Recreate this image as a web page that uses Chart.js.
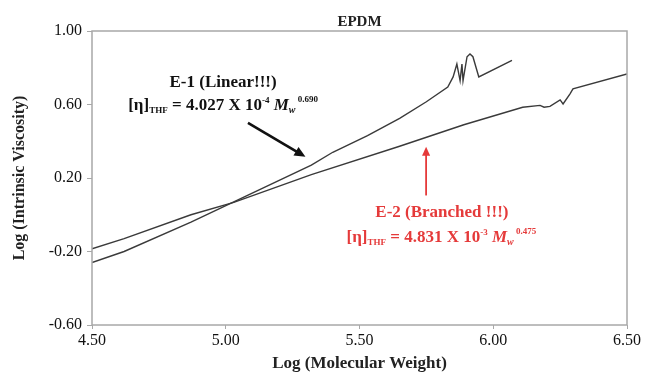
<!DOCTYPE html>
<html>
<head>
<meta charset="utf-8">
<script src="https://cdn.jsdelivr.net/npm/chart.js@4.4.0/dist/chart.umd.min.js"></script>
<style>
  html, body { margin: 0; padding: 0; background: #fff; }
  canvas { display: block; }
</style>
</head>
<body>
<canvas id="c" width="646" height="377"></canvas>
<script>
// ---- data -------------------------------------------------------------
const chartTitle = 'EPDM';
const xAxisTitle = 'Log (Molecular Weight)';
const yAxisTitle = 'Log (Intrinsic Viscosity)';
const xTickValues = [4.5, 5.0, 5.5, 6.0, 6.5];
const yTickValues = [-0.6, -0.2, 0.2, 0.6, 1.0];

// E-1 (linear EPDM): log M vs log [eta]
const e1LogM   = [4.50, 4.62, 4.87, 5.03, 5.32, 5.40, 5.53, 5.65, 5.75, 5.83, 5.85, 5.864, 5.876, 5.883, 5.887, 5.902, 5.913, 5.924, 5.946, 6.07];
const e1LogEta = [-0.26, -0.20, -0.04, 0.07, 0.27, 0.34, 0.43, 0.525, 0.615, 0.695, 0.75, 0.82, 0.73, 0.82, 0.73, 0.86, 0.875, 0.86, 0.75, 0.84];

// E-2 (branched EPDM)
const e2LogM   = [4.50, 4.62, 4.87, 5.03, 5.32, 5.65, 5.89, 6.11, 6.175, 6.19, 6.212, 6.25, 6.261, 6.287, 6.298, 6.50];
const e2LogEta = [-0.185, -0.13, 0.0, 0.067, 0.218, 0.373, 0.49, 0.585, 0.595, 0.585, 0.59, 0.625, 0.603, 0.658, 0.685, 0.766];

// Mark-Houwink labels
const e1Name = 'E-1 (Linear!!!)';
const e1K = '4.027', e1Exp10 = '-4', e1A = '0.690';
const e2Name = 'E-2 (Branched !!!)';
const e2K = '4.831', e2Exp10 = '-3', e2A = '0.475';

// ---- drawing helpers --------------------------------------------------
const SERIF = '"Liberation Serif", "Times New Roman", serif';
const LINE_COLOR = '#3a3a3a';
const RED = '#e53a3a';

function toPoints(xs, ys) { return xs.map((x, i) => ({ x: x, y: ys[i] })); }

function drawRich(ctx, segs, cx, base, color) {
  let w = 0;
  segs.forEach(s => { ctx.font = s.font; s.w = ctx.measureText(s.t).width; w += s.w; });
  let x = cx - w / 2;
  ctx.fillStyle = color;
  ctx.textAlign = 'left';
  ctx.textBaseline = 'alphabetic';
  segs.forEach(s => { ctx.font = s.font; ctx.fillText(s.t, x, base + (s.dy || 0)); x += s.w; });
}

function equationSegs(k, exp10, a) {
  const big = 'bold 17px ' + SERIF;
  const small = 'bold 9px ' + SERIF;
  return [
    { t: '[\u03B7]', font: big },
    { t: 'THF', font: small, dy: 3 },
    { t: ' = ' + k + ' X 10', font: big },
    { t: exp10, font: small, dy: -7 },
    { t: ' ', font: big },
    { t: 'M', font: 'bold italic 17px ' + SERIF },
    { t: 'w', font: 'bold italic 10px ' + SERIF, dy: 3 },
    { t: ' ' + a, font: small, dy: -8 }
  ];
}

function arrow(ctx, x0, y0, x1, y1, color, width, head) {
  const ang = Math.atan2(y1 - y0, x1 - x0);
  ctx.save();
  ctx.strokeStyle = color; ctx.fillStyle = color; ctx.lineWidth = width;
  ctx.beginPath();
  ctx.moveTo(x0, y0);
  ctx.lineTo(x1 - Math.cos(ang) * head * 0.8, y1 - Math.sin(ang) * head * 0.8);
  ctx.stroke();
  ctx.beginPath();
  ctx.moveTo(x1, y1);
  ctx.lineTo(x1 - head * Math.cos(ang) + head * 0.45 * Math.sin(ang), y1 - head * Math.sin(ang) - head * 0.45 * Math.cos(ang));
  ctx.lineTo(x1 - head * Math.cos(ang) - head * 0.45 * Math.sin(ang), y1 - head * Math.sin(ang) + head * 0.45 * Math.cos(ang));
  ctx.closePath();
  ctx.fill();
  ctx.restore();
}

// plot frame, title and the two annotations
const decorations = {
  id: 'decorations',
  afterDatasetsDraw(chart) {
    const { ctx, chartArea: a, scales: { x, y } } = chart;
    ctx.save();
    ctx.strokeStyle = '#a8a8a8';
    ctx.lineWidth = 1.5;
    ctx.strokeRect(a.left, a.top, a.right - a.left, a.bottom - a.top);

    ctx.fillStyle = '#222';
    ctx.font = 'bold 15px ' + SERIF;
    ctx.textAlign = 'center';
    ctx.textBaseline = 'alphabetic';
    ctx.fillText(chartTitle, (a.left + a.right) / 2, a.top - 5);

    // E-1
    drawRich(ctx, [{ t: e1Name, font: 'bold 17px ' + SERIF }], x.getPixelForValue(4.99), y.getPixelForValue(0.695), '#111');
    drawRich(ctx, equationSegs(e1K, e1Exp10, e1A), x.getPixelForValue(4.99), y.getPixelForValue(0.57), '#111');
    arrow(ctx, x.getPixelForValue(5.083), y.getPixelForValue(0.50), x.getPixelForValue(5.298), y.getPixelForValue(0.315), '#111', 2.6, 11);

    // E-2
    drawRich(ctx, [{ t: e2Name, font: 'bold 17px ' + SERIF }], x.getPixelForValue(5.808), y.getPixelForValue(-0.012), RED);
    drawRich(ctx, equationSegs(e2K, e2Exp10, e2A), x.getPixelForValue(5.806), y.getPixelForValue(-0.148), RED);
    arrow(ctx, x.getPixelForValue(5.749), y.getPixelForValue(0.105), x.getPixelForValue(5.749), y.getPixelForValue(0.37), RED, 1.8, 9);
    ctx.restore();
  }
};

new Chart(document.getElementById('c'), {
  type: 'scatter',
  data: {
    datasets: [
      { label: 'E-1', data: toPoints(e1LogM, e1LogEta), showLine: true, borderColor: LINE_COLOR, borderWidth: 1.4, pointRadius: 0, tension: 0 },
      { label: 'E-2', data: toPoints(e2LogM, e2LogEta), showLine: true, borderColor: LINE_COLOR, borderWidth: 1.4, pointRadius: 0, tension: 0 }
    ]
  },
  options: {
    responsive: false,
    animation: false,
    layout: { padding: { top: 31, right: 19, left: 0, bottom: 0 } },
    plugins: { legend: { display: false }, tooltip: { enabled: false }, title: { display: false } },
    scales: {
      x: {
        type: 'linear', min: 4.5, max: 6.5,
        afterBuildTicks: s => { s.ticks = xTickValues.map(v => ({ value: v })); },
        afterFit: s => { s.height = 52; },
        grid: { display: true, drawOnChartArea: false, drawTicks: true, tickLength: 4, color: '#a8a8a8' },
        border: { display: false },
        ticks: { callback: v => v.toFixed(2), color: '#111', padding: 2, maxRotation: 0, font: { family: SERIF, size: 16 } },
        title: { display: true, text: xAxisTitle, color: '#222', padding: { top: 0, bottom: 3 }, font: { family: SERIF, size: 17, weight: 'bold', lineHeight: 1.2 } }
      },
      y: {
        type: 'linear', min: -0.6, max: 1.0,
        afterBuildTicks: s => { s.ticks = yTickValues.map(v => ({ value: v })); },
        afterFit: s => { s.width = 92; },
        grid: { display: true, drawOnChartArea: false, drawTicks: true, tickLength: 5, color: '#a8a8a8' },
        border: { display: false },
        ticks: { callback: v => v.toFixed(2), color: '#111', padding: 5, font: { family: SERIF, size: 16 } },
        title: { display: true, text: yAxisTitle, color: '#222', padding: { top: 10, bottom: 0 }, font: { family: SERIF, size: 16, weight: 'bold', lineHeight: 1.2 } }
      }
    }
  },
  plugins: [decorations]
});
</script>
</body>
</html>
